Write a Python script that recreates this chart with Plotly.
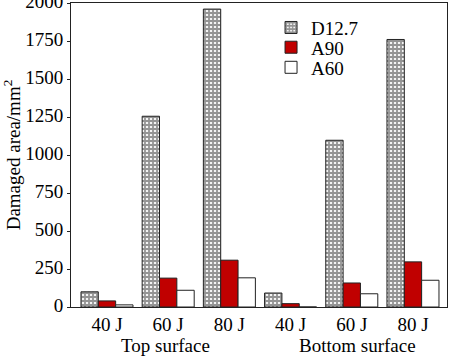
import plotly.graph_objects as go

categories = ["40 J", "60 J", "80 J", "40 J ", "60 J ", "80 J "]
tick_text = ["40 J", "60 J", "80 J", "40 J", "60 J", "80 J"]
group_labels = ["Top surface", "Bottom surface"]
series_names = ["D12.7", "A90", "A60"]
d127 = [100, 1255, 1960, 92, 1097, 1760]
a90 = [40, 190, 308, 22, 158, 297]
a60 = [14, 110, 192, 0, 87, 176]
y_ticks = [0, 250, 500, 750, 1000, 1250, 1500, 1750, 2000]

FONT = "Liberation Serif"
xs = list(range(len(categories)))
f19 = dict(family=FONT, size=19, color="black")

fig = go.Figure()
fig.add_trace(go.Bar(
    x=xs, y=d127, name=series_names[0], legend="legend",
    marker=dict(color="white", line=dict(color="#222", width=1),
                pattern=dict(shape="+", fgcolor="#333", bgcolor="#f4f4f4",
                             size=4, solidity=0.7)),
))
fig.add_trace(go.Bar(
    x=xs, y=a90, name=series_names[1], legend="legend2",
    marker=dict(color="#c00000", line=dict(color="#222", width=1)),
))
fig.add_trace(go.Bar(
    x=xs, y=a60, name=series_names[2], legend="legend3",
    marker=dict(color="white", line=dict(color="#222", width=1)),
))

leg_common = dict(x=0.532, xanchor="left", yanchor="middle",
                  bgcolor="rgba(0,0,0,0)", font=f19, itemwidth=30)

fig.update_layout(
    width=450, height=357,
    margin=dict(l=71, r=3, t=3, b=50, autoexpand=False),
    paper_bgcolor="white", plot_bgcolor="white",
    font=f19,
    barmode="group", bargap=0.15, bargroupgap=0,
    showlegend=True,
    legend=dict(y=0.919, **leg_common),
    legend2=dict(y=0.854, **leg_common),
    legend3=dict(y=0.788, **leg_common),
    xaxis=dict(range=[-0.588, 5.556], tickmode="array", tickvals=xs,
               ticktext=tick_text, showgrid=False, zeroline=False,
               showline=True, linecolor="#222", linewidth=1, mirror=True,
               ticks="", tickfont=f19, automargin=False),
    yaxis=dict(range=[0, 2000], tickmode="array", tickvals=y_ticks,
               showgrid=False, zeroline=False, showline=True,
               linecolor="#222", linewidth=1, mirror=True,
               ticks="outside", ticklen=3, tickcolor="#222",
               tickfont=f19, automargin=False, ticklabeloverflow="allow",
               ticklabelshift=-2,
               title=dict(text="Damaged area/mm<sup>2</sup>",
                          font=f19, standoff=8)),
)

for gx, label in zip([0.95, 4.1], group_labels):
    fig.add_annotation(x=gx, y=-0.1257, xref="x", yref="paper",
                       text=label, showarrow=False, yanchor="middle",
                       font=f19)

fig.write_html(
    "out.html",
    config={"displayModeBar": False},
    post_script="document.body.style.margin='0';document.body.style.padding='0';",
)
